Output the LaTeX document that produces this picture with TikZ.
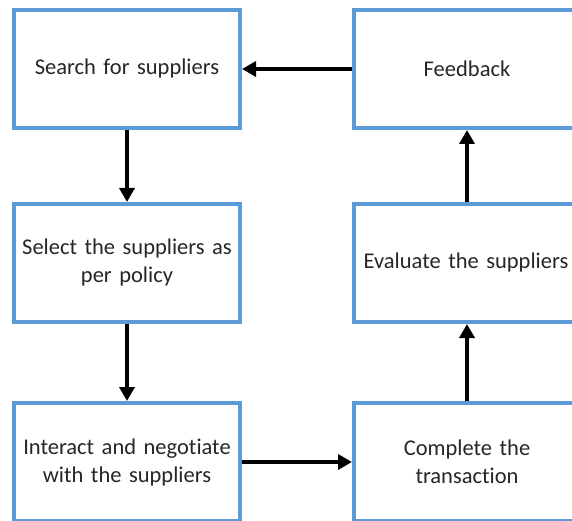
\documentclass[tikz,border=0pt]{standalone}
\usepackage{fontspec}
\setmainfont{Carlito}[Ligatures=NoCommon]
\usetikzlibrary{arrows.meta}
\definecolor{boxblue}{HTML}{5B9BD5}
\definecolor{textgray}{HTML}{262626}
\tikzstyle{stage} = [rectangle, minimum width=226pt, minimum height=118pt, inner sep=0pt, text width=222pt, align=center, draw=boxblue, line width=4pt, fill=white, text=textgray, font=\fontsize{22.5}{28}\selectfont]
\tikzstyle{arrow} = [line width=4pt,-{Triangle[length=14pt,width=15pt]}]

\begin{document}
\begin{tikzpicture}[x=1pt,y=1pt]
			\useasboundingbox (0,0) rectangle (572,-521);
			
			% Kolom kiri
			\node (search) [stage] at (127,-69) {Search for suppliers};
			\node (select) [stage] at (127,-263) {Select the suppliers as\\per policy};
			\node (negotiate) [stage] at (127,-462) {Interact and negotiate\\with the suppliers};
			
			% Kolom kanan
			\node (feedback) [stage] at (467,-69) {Feedback};
			\node (evaluate) [stage] at (467,-263) {\hspace*{-2pt}Evaluate the suppliers};
			\node (complete) [stage] at (467,-462) {Complete the\\transaction};
			
			% Panah
			\draw [arrow] (search) -- (select);
			\draw [arrow] (select) -- (negotiate);
			\draw [arrow] (negotiate) -- (complete);
			\draw [arrow] (complete) -- (evaluate);
			\draw [arrow] (evaluate) -- (feedback);
			\draw [arrow] (feedback) -- (search);
			
		\end{tikzpicture}
\end{document}
